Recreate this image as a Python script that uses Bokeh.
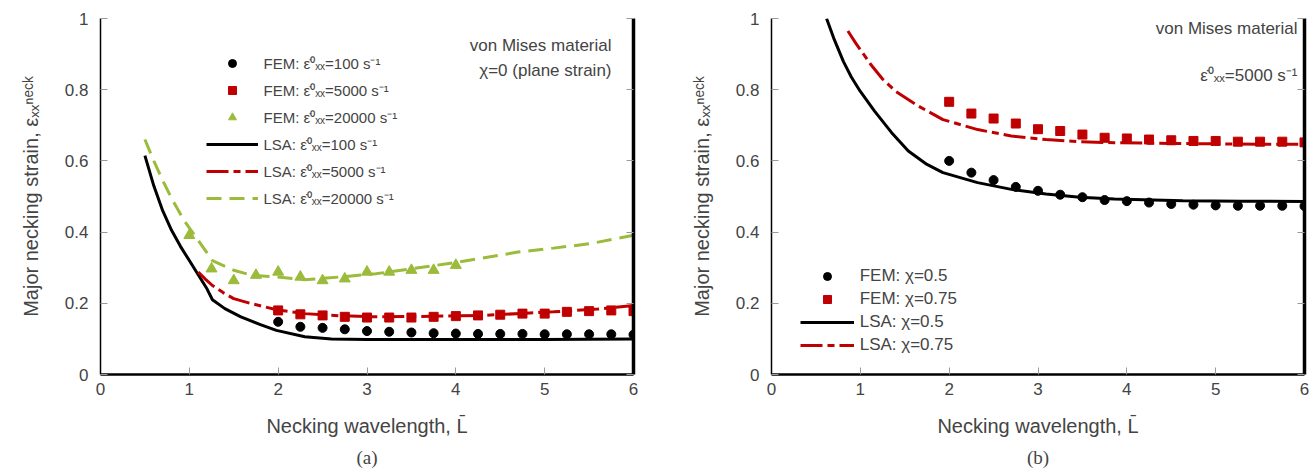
from bokeh.plotting import figure
from bokeh.layouts import row
from bokeh.models import (LinearAxis, FixedTicker, CustomJSTickFormatter, Label,
                          Legend, LegendItem, Title, Range1d)
from bokeh.embed import file_html
from bokeh.resources import INLINE

FONT = "Liberation Sans"
BLACK = "#000000"
RED = "#C00000"
GREEN = "#9BBB3A"

x_ticks = [0, 1, 2, 3, 4, 5, 6]
y_ticks = [0, 0.2, 0.4, 0.6, 0.8, 1]

# ---------------- panel (a) data ----------------
L_fem = [2.0, 2.25, 2.5, 2.75, 3.0, 3.25, 3.5, 3.75, 4.0, 4.25, 4.5, 4.75, 5.0, 5.25, 5.5, 5.75, 6.0]
fem_100 = [0.148, 0.134, 0.131, 0.127, 0.122, 0.120, 0.118, 0.116, 0.115, 0.114, 0.114, 0.114,
           0.113, 0.113, 0.113, 0.113, 0.112]
fem_5000 = [0.180, 0.169, 0.166, 0.162, 0.160, 0.160, 0.160, 0.162, 0.164, 0.166, 0.168, 0.171,
            0.171, 0.176, 0.178, 0.180, 0.178]
L_fem_20000 = [1.0, 1.25, 1.5, 1.75, 2.0, 2.25, 2.5, 2.75, 3.0, 3.25, 3.5, 3.75, 4.0]
fem_20000 = [0.391, 0.297, 0.264, 0.279, 0.288, 0.274, 0.264, 0.269, 0.288, 0.288, 0.293, 0.293, 0.307]

L_lsa_100 = [0.5, 0.6, 0.7, 0.8, 0.9, 1.0, 1.1, 1.2, 1.26, 1.4, 1.58, 1.8, 1.98, 2.3, 2.6, 3.0, 4.0, 5.0, 6.0]
lsa_100 = [0.615, 0.53, 0.46, 0.405, 0.36, 0.32, 0.28, 0.24, 0.21, 0.185, 0.162, 0.14, 0.124, 0.106,
           0.1, 0.098, 0.098, 0.098, 0.1]
L_lsa_5000 = [1.1, 1.18, 1.26, 1.38, 1.5, 1.7, 1.98, 2.3, 2.7, 3.1, 3.6, 4.3, 5.1, 5.6, 6.0]
lsa_5000 = [0.288, 0.268, 0.25, 0.23, 0.213, 0.199, 0.182, 0.171, 0.165, 0.162, 0.163, 0.166, 0.176,
            0.184, 0.194]
L_lsa_20000 = [0.5, 0.6, 0.7, 0.8, 0.94, 1.1, 1.26, 1.5, 1.7, 1.98, 2.3, 2.7, 3.1, 3.5, 3.9, 4.3, 4.7,
               5.1, 5.5, 6.0]
lsa_20000 = [0.66, 0.6, 0.545, 0.495, 0.433, 0.377, 0.32, 0.293, 0.279, 0.274, 0.266, 0.274, 0.283,
             0.297, 0.311, 0.327, 0.344, 0.355, 0.367, 0.391]

# ---------------- panel (b) data ----------------
fem_chi05 = [0.600, 0.567, 0.546, 0.527, 0.516, 0.505, 0.498, 0.490, 0.487, 0.483, 0.479, 0.477,
             0.475, 0.474, 0.474, 0.474, 0.473]
fem_chi075 = [0.766, 0.733, 0.719, 0.705, 0.689, 0.684, 0.674, 0.665, 0.663, 0.660, 0.658, 0.656,
              0.656, 0.654, 0.654, 0.654, 0.652]
L_lsa_chi05 = [0.62, 0.7, 0.81, 0.9, 1.0, 1.16, 1.35, 1.54, 1.75, 1.93, 2.32, 2.7, 3.09, 3.47, 3.86,
               4.63, 5.3, 6.0]
lsa_chi05 = [1.0, 0.945, 0.879, 0.835, 0.795, 0.74, 0.68, 0.628, 0.59, 0.567, 0.539, 0.52, 0.507,
             0.498, 0.493, 0.488, 0.487, 0.486]
L_lsa_chi075 = [0.86, 0.95, 1.05, 1.12, 1.25, 1.4, 1.66, 1.93, 2.32, 2.7, 3.09, 3.47, 3.86, 4.5, 5.0,
                5.5, 6.0]
lsa_chi075 = [0.965, 0.93, 0.895, 0.87, 0.83, 0.795, 0.753, 0.716, 0.688, 0.67, 0.66, 0.654, 0.651,
              0.649, 0.648, 0.647, 0.647]

EDOT = "\u03b5\u0307\u2070\u2093\u2093"
labels_a = ["FEM: " + EDOT + "=100 s\u207b\u00b9",
            "FEM: " + EDOT + "=5000 s\u207b\u00b9",
            "FEM: " + EDOT + "=20000 s\u207b\u00b9",
            "LSA: " + EDOT + "=100 s\u207b\u00b9",
            "LSA: " + EDOT + "=5000 s\u207b\u00b9",
            "LSA: " + EDOT + "=20000 s\u207b\u00b9"]
labels_b = ["FEM: \u03c7=0.5", "FEM: \u03c7=0.75", "LSA: \u03c7=0.5", "LSA: \u03c7=0.75"]

X_LABEL = "Necking wavelength, L\u0304"
Y_LABEL = "Major necking strain, \u03b5\u2093\u2093\u207f\u1d49\u1d9c\u1d4f"


def make_fig(width, min_left, min_right, caption):
    p = figure(width=width, height=473, x_range=Range1d(0, 6), y_range=Range1d(0, 1),
               output_backend="svg", toolbar_location=None,
               min_border_left=min_left, min_border_right=min_right,
               min_border_top=18, min_border_bottom=99)
    p.grid.visible = False
    p.outline_line_color = None
    p.border_fill_color = "white"
    p.background_fill_color = "white"

    xa = p.xaxis[0]
    xa.ticker = FixedTicker(ticks=x_ticks)
    xa.axis_line_width = 2.5
    xa.axis_line_color = BLACK
    xa.major_tick_in = 7
    xa.major_tick_out = 0
    xa.major_tick_line_color = "#9a9a9a"
    xa.minor_tick_line_color = None
    xa.major_label_text_font = FONT
    xa.major_label_text_font_size = "17px"
    xa.major_label_standoff = 8
    xa.axis_label = X_LABEL
    xa.axis_label_text_font = FONT
    xa.axis_label_text_font_style = "normal"
    xa.axis_label_text_font_size = "20px"
    xa.axis_label_standoff = 17

    ya = p.yaxis[0]
    ya.ticker = FixedTicker(ticks=y_ticks)
    ya.formatter = CustomJSTickFormatter(code="return String(tick)")
    ya.axis_line_width = 1.5
    ya.axis_line_color = BLACK
    ya.major_tick_in = 7
    ya.major_tick_out = 0
    ya.major_tick_line_color = "#9a9a9a"
    ya.minor_tick_line_color = None
    ya.major_label_text_font = FONT
    ya.major_label_text_font_size = "17px"
    ya.major_label_standoff = 12
    ya.axis_label = Y_LABEL
    ya.axis_label_text_font = FONT
    ya.axis_label_text_font_style = "normal"
    ya.axis_label_text_font_size = "20px"
    ya.axis_label_standoff = 20

    ra = LinearAxis(ticker=FixedTicker(ticks=y_ticks),
                    formatter=CustomJSTickFormatter(code="return ''"),
                    axis_line_width=3.5, axis_line_color=BLACK,
                    major_tick_in=7, major_tick_out=0, major_tick_line_color="#9a9a9a",
                    minor_tick_line_color=None, major_label_text_font_size="0px",
                    major_label_standoff=0)
    p.add_layout(ra, "right")

    p.add_layout(Title(text=caption, align="center", text_font="Liberation Serif",
                       text_font_size="19px", text_font_style="normal", standoff=10), "below")
    return p


# ---------------- panel (a) ----------------
pa = make_fig(671, 100, 38, "(a)")
r1 = pa.scatter(L_fem, fem_100, marker="circle", size=9, color=BLACK)
r2 = pa.scatter(L_fem, fem_5000, marker="square", size=9, color=RED)
r3 = pa.scatter(L_fem_20000, fem_20000, marker="triangle", size=11, color=GREEN)
r4 = pa.line(L_lsa_100, lsa_100, line_color=BLACK, line_width=3)
r5 = pa.line(L_lsa_5000, lsa_5000, line_color=RED, line_width=3, line_dash="22 5 7 5")
r6 = pa.line(L_lsa_20000, lsa_20000, line_color=GREEN, line_width=3, line_dash="15 8")

leg_a = Legend(items=[LegendItem(label=t, renderers=[r]) for t, r in
                      zip(labels_a, [r1, r2, r3, r4, r5, r6])],
               location=(105.5, 166), glyph_width=52, glyph_height=20, label_height=20,
               spacing=7, padding=0, margin=0, label_standoff=6,
               label_text_font=FONT, label_text_font_size="15px",
               background_fill_alpha=0, border_line_color=None)
pa.add_layout(leg_a)

pa.add_layout(Label(x=6, y=0.924, x_offset=-22, text="von Mises material", text_align="right",
                    text_baseline="middle", text_font=FONT, text_font_size="17px"))
pa.add_layout(Label(x=6, y=0.854, x_offset=-22, text="\u03c7=0 (plane strain)", text_align="right",
                    text_baseline="middle", text_font=FONT, text_font_size="17px"))

# ---------------- panel (b) ----------------
pb = make_fig(645, 100, 12, "(b)")
s1 = pb.scatter(L_fem, fem_chi05, marker="circle", size=9, color=BLACK)
s2 = pb.scatter(L_fem, fem_chi075, marker="square", size=9, color=RED)
s3 = pb.line(L_lsa_chi05, lsa_chi05, line_color=BLACK, line_width=3)
s4 = pb.line(L_lsa_chi075, lsa_chi075, line_color=RED, line_width=3, line_dash="22 5 7 5")

leg_b = Legend(items=[LegendItem(label=t, renderers=[r]) for t, r in
                      zip(labels_b, [s1, s2, s3, s4])],
               location=(28.7, 18.6), glyph_width=54, glyph_height=20, label_height=20,
               spacing=3, padding=0, margin=0, label_standoff=6,
               label_text_font=FONT, label_text_font_size="17px",
               background_fill_alpha=0, border_line_color=None)
pb.add_layout(leg_b)

pb.add_layout(Label(x=6, y=0.972, x_offset=-7, text="von Mises material", text_align="right",
                    text_baseline="middle", text_font=FONT, text_font_size="17px"))
pb.add_layout(Label(x=6, y=0.84, x_offset=-7, text=EDOT + "=5000 s\u207b\u00b9", text_align="right",
                    text_baseline="middle", text_font=FONT, text_font_size="17px"))

layout = row(pa, pb)
open("out.html", "w").write(file_html(layout, INLINE))
